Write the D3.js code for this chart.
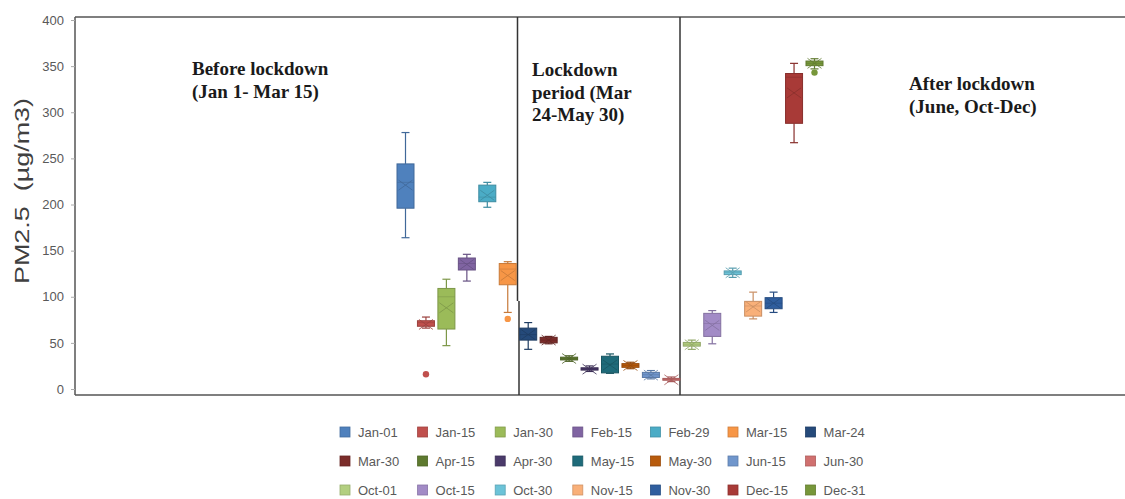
<!DOCTYPE html>
<html>
<head>
<meta charset="utf-8">
<script src="https://cdn.jsdelivr.net/npm/d3@7"></script>
<style>
  html, body { margin: 0; padding: 0; background: #fff; }
  svg { display: block; }
</style>
</head>
<body>
<svg id="chart" width="1125" height="499"></svg>
<script>
// PM2.5 box statistics per sampling date
const categories = ["Jan-01","Jan-15","Jan-30","Feb-15","Feb-29","Mar-15","Mar-24",
                    "Mar-30","Apr-15","Apr-30","May-15","May-30","Jun-15","Jun-30",
                    "Oct-01","Oct-15","Oct-30","Nov-15","Nov-30","Dec-15","Dec-31"];
const whiskerLow  = [164, 66, 47, 117, 197, 83, 43, 49, 30, 19, 17, 22, 11, 8, 43, 49, 121, 76, 83, 267, 347];
const q1          = [196, 68, 65, 129, 203, 113, 53, 50, 31.5, 20.5, 17.5, 23.5, 12.5, 9.5, 46.5, 57, 124, 79, 87, 288, 350.5];
const median      = [224, 72, 100, 136, 208, 130, 59, 53, 33, 22, 27, 25.5, 15.5, 10.5, 48.5, 71, 126.5, 90, 93, 338, 353];
const q3          = [244, 74, 109, 142, 221, 136, 66, 56, 34.5, 23, 35.5, 27.5, 18, 11.5, 50.5, 82, 128, 95, 99, 342, 355.5];
const whiskerHigh = [278, 78, 119, 146, 224, 138, 72, 57, 36, 25, 38, 29, 20, 13, 53, 85, 131, 105, 105, 353, 358];
const means       = [221, 70, 88, 135, 210, 123, 59, 53, 33, 21.5, 26, 25.5, 15, 10, 48, 69, 126, 89, 93, 321, 353];
const outliers    = [[], [16], [], [], [], [76], [], [], [], [], [], [], [], [], [], [], [], [], [], [], [343]];
const colors = ["#4f81bd","#c0504d","#9bbb59","#8064a2","#4bacc6","#f79646","#254a7a",
                "#7b2c2a","#5e7a2f","#4a3a6a","#1f6b7a","#b85b0c","#7096cc","#d0706f",
                "#b3cf80","#a28bc6","#6cc3d8","#f9b079","#2f5e9e","#a83a37","#77973a"];
const yTicks = [0, 50, 100, 150, 200, 250, 300, 350, 400];
const periodLabels = [
  { lines: ["Before lockdown", "(Jan 1- Mar 15)"], x: 192, y: 75 },
  { lines: ["Lockdown", "period (Mar", "24-May 30)"], x: 532, y: 76 },
  { lines: ["After lockdown", "(June, Oct-Dec)"], x: 909, y: 90 }
];

const svg = d3.select("#chart");
const W = 1125;
const frame = { left: 75, top: 17, bottom: 395, right: W };

const y = d3.scaleLinear().domain([0, 400]).range([389, 20]);
const x = d3.scalePoint().domain(categories).range([405.5, 814.5]);
const boxW = 17, capW = 8;

// frame: left axis, top border, bottom axis
const frameG = svg.append("g").attr("stroke", "#555").attr("stroke-width", 1.5);
frameG.append("line").attr("x1", frame.left).attr("x2", frame.left).attr("y1", frame.top).attr("y2", frame.bottom);
frameG.append("line").attr("x1", frame.left).attr("x2", frame.right).attr("y1", frame.top).attr("y2", frame.top);
frameG.append("line").attr("x1", frame.left).attr("x2", frame.right).attr("y1", frame.bottom).attr("y2", frame.bottom);

// y axis ticks and labels
const axis = svg.append("g").attr("transform", `translate(${frame.left},0)`)
  .call(d3.axisLeft(y).tickValues(yTicks).tickSize(4).tickPadding(7));
axis.select(".domain").remove();
axis.selectAll(".tick line").attr("stroke", "#aaa");
axis.selectAll(".tick text").attr("fill", "#595959")
  .style("font-family", "'Liberation Sans', Arial, sans-serif").style("font-size", "13px");

// y axis title
svg.append("text")
  .attr("transform", "translate(29,191) rotate(-90)")
  .attr("text-anchor", "middle")
  .attr("fill", "#404040")
  .attr("textLength", 186)
  .attr("lengthAdjust", "spacingAndGlyphs")
  .style("white-space", "pre")
  .style("font-family", "'Liberation Sans', Arial, sans-serif")
  .style("font-size", "20px")
  .text("PM2.5  (µg/m3)");

// period dividers
const divG = svg.append("g").attr("stroke", "#333").attr("stroke-width", 1.5);
divG.append("line").attr("x1", 517.5).attr("x2", 517.5).attr("y1", frame.top).attr("y2", 301);
divG.append("line").attr("x1", 519).attr("x2", 519).attr("y1", 301).attr("y2", frame.bottom);
divG.append("line").attr("x1", 680).attr("x2", 680).attr("y1", frame.top).attr("y2", frame.bottom);

// period annotations
periodLabels.forEach(p => {
  const t = svg.append("text")
    .attr("x", p.x).attr("y", p.y)
    .attr("fill", "#1a1a1a")
    .style("font-family", "'Liberation Serif', 'Times New Roman', serif")
    .style("font-weight", "bold")
    .style("font-size", "19px");
  p.lines.forEach((line, i) => {
    t.append("tspan").attr("x", p.x).attr("dy", i === 0 ? 0 : 22.5).text(line);
  });
});

// box plots
const data = categories.map((c, i) => ({
  cat: c, lo: whiskerLow[i], q1: q1[i], med: median[i], q3: q3[i],
  hi: whiskerHigh[i], mean: means[i], out: outliers[i], color: colors[i]
}));

const boxes = svg.append("g").selectAll("g").data(data).join("g")
  .attr("transform", d => `translate(${x(d.cat)},0)`);

boxes.each(function(d) {
  const g = d3.select(this);
  const dark = d3.color(d.color).darker(0.6).formatHex();
  // whiskers
  g.append("line").attr("x1", 0).attr("x2", 0).attr("y1", y(d.hi)).attr("y2", y(d.q3))
    .attr("stroke", dark).attr("stroke-width", 1.2);
  g.append("line").attr("x1", 0).attr("x2", 0).attr("y1", y(d.q1)).attr("y2", y(d.lo))
    .attr("stroke", dark).attr("stroke-width", 1.2);
  [d.hi, d.lo].forEach(v => {
    g.append("line").attr("x1", -capW / 2).attr("x2", capW / 2).attr("y1", y(v)).attr("y2", y(v))
      .attr("stroke", dark).attr("stroke-width", 1.2);
  });
  // box
  g.append("rect")
    .attr("x", -boxW / 2).attr("width", boxW)
    .attr("y", y(d.q3)).attr("height", Math.max(y(d.q1) - y(d.q3), 1))
    .attr("fill", d.color).attr("stroke", dark).attr("stroke-width", 1);
  // median
  g.append("line").attr("x1", -boxW / 2).attr("x2", boxW / 2).attr("y1", y(d.med)).attr("y2", y(d.med))
    .attr("stroke", dark).attr("stroke-width", 0.8).attr("stroke-opacity", 0.7);
  // mean marker
  const my = y(d.mean);
  g.append("path")
    .attr("d", `M-7,${my - 5}L7,${my + 5}M-7,${my + 5}L7,${my - 5}`)
    .attr("stroke", dark).attr("stroke-width", 1).attr("stroke-opacity", 0.8).attr("fill", "none");
  // outliers
  g.selectAll("circle").data(d.out).join("circle")
    .attr("cx", 0).attr("cy", v => y(v)).attr("r", 3.2).attr("fill", d.color);
});

// legend: 3 rows x 7 columns
const legend = svg.append("g");
const colStep = 77.6, rowStep = 29;
categories.forEach((c, i) => {
  const col = i % 7, row = Math.floor(i / 7);
  const lx = 340 + col * colStep, ly = 432 + row * rowStep;
  legend.append("rect").attr("x", lx).attr("y", ly - 5).attr("width", 10).attr("height", 10)
    .attr("fill", colors[i]).attr("stroke", d3.color(colors[i]).darker(0.5)).attr("stroke-width", 0.8);
  legend.append("text").attr("x", lx + 18).attr("y", ly).attr("dy", "0.35em")
    .attr("fill", "#595959")
    .style("font-family", "'Liberation Sans', Arial, sans-serif").style("font-size", "13px")
    .text(c);
});
</script>
</body>
</html>
